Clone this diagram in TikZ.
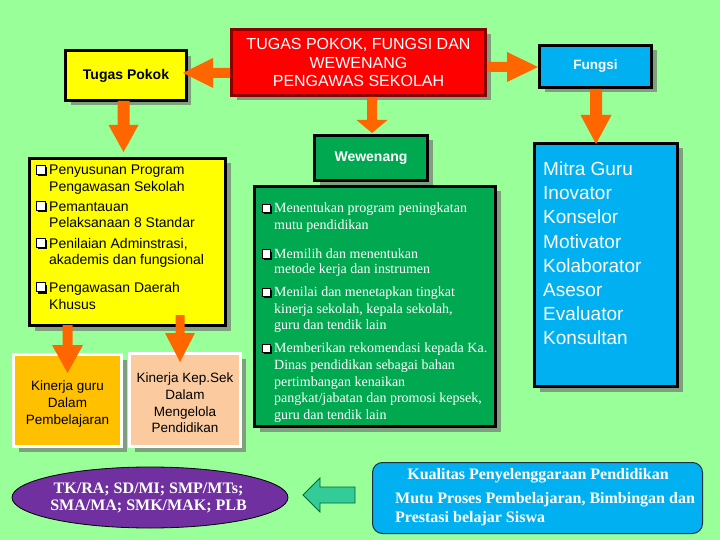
\documentclass[tikz,border=0pt]{standalone}
\usepackage{fontspec}
\setmainfont{Liberation Serif}
\setsansfont{Liberation Sans}
\usetikzlibrary{calc,shadows,shapes.geometric}
\definecolor{bgc}{HTML}{99FF99}
\definecolor{orng}{HTML}{FF6600}
\definecolor{yel}{HTML}{FFFF00}
\definecolor{redc}{HTML}{FF0000}
\definecolor{dred}{HTML}{8B0000}
\definecolor{fblue}{HTML}{00B0F0}
\definecolor{wgreen}{HTML}{00A850}
\definecolor{kgc}{HTML}{FFC000}
\definecolor{kkc}{HTML}{FBCB9F}
\definecolor{purp}{HTML}{7030A0}
\definecolor{agreen}{HTML}{33CC99}
\definecolor{agdark}{HTML}{006633}
\definecolor{bdark}{HTML}{1F3040}
\definecolor{shadowc}{HTML}{7F9F7F}
\newcommand\blockarr[6][]{%
  \coordinate (hb) at ($(#3)!#6!(#2)$);
  \path[#1] ($(#2)!#4!90:(#3)$) -- ($(hb)!#4!-90:(#2)$) -- ($(hb)!#5!-90:(#2)$) -- (#3)
    -- ($(hb)!#5!90:(#2)$) -- ($(hb)!#4!90:(#2)$) -- ($(#2)!#4!-90:(#3)$) -- cycle;}
\begin{document}
\begin{tikzpicture}[x=1pt,y=-1pt,
  shbox/.style={draw=black, line width=3pt, inner sep=0pt,
    drop shadow={shadow xshift=5pt, shadow yshift=-5pt, fill=shadowc, opacity=1}},
  oarrow/.style={fill=orng},
  garrow/.style={fill=agreen, draw=agdark, line width=0.8pt},
  txt/.style={inner sep=0pt, anchor=base west},
  ysans/.style={font=\sffamily\fontsize{14}{16}\selectfont},
  gser/.style={font=\rmfamily\fontsize{14}{16}\selectfont, text=white},
  bsans/.style={font=\sffamily\fontsize{19}{24}\selectfont, text=white},
  kbser/.style={text=white, font=\rmfamily\bfseries\fontsize{16}{18}\selectfont},
  qbul/.pic={\fill[black] (2,2) rectangle (11,-7);
    \filldraw[fill=white, draw=black, line width=0.8pt] (0,0) rectangle (9,-9);}
]
\useasboundingbox (0,0) rectangle (720,540);
\fill[bgc] (0,0) rectangle (720,540);

% main boxes
\node[shbox, fill=yel, minimum width=120.7pt, minimum height=49.7pt,
  font=\sffamily\bfseries\fontsize{14}{16}\selectfont] (tp) at (126,75.5) {Tugas Pokok};
\node[shbox, draw=dred, fill=redc, text=white, minimum width=254pt, minimum height=66pt,
  align=center, font=\sffamily\fontsize{16}{18.8}\selectfont] (main) at (358.5,62.5)
  {TUGAS POKOK, FUNGSI DAN\\WEWENANG\\PENGAWAS SEKOLAH};
\node[shbox, fill=fblue, text=white, minimum width=112pt, minimum height=42pt,
  font=\sffamily\bfseries\fontsize{13.5}{16}\selectfont] (fu) at (595.5,66.5) {Fungsi};
\node[shbox, fill=wgreen, text=white, minimum width=113pt, minimum height=45pt,
  font=\sffamily\bfseries\fontsize{14}{16}\selectfont] (we) at (371,158) {Wewenang};

% list containers
\node[shbox, fill=yel, minimum width=196pt, minimum height=167pt] (yl) at (127.5,242) {};
\node[shbox, fill=wgreen, minimum width=241pt, minimum height=240pt] (gl) at (375,306.5) {};
\node[shbox, fill=fblue, minimum width=143pt, minimum height=243pt] (bl) at (606,265) {};
\node[shbox, draw=white, fill=kgc, minimum width=108pt, minimum height=92pt] (kg) at (67.5,400.5) {};
\node[shbox, draw=white, fill=kkc, minimum width=111pt, minimum height=93pt] (kk) at (185,400) {};

% yellow list
\foreach \yy in {174.5,210.5,247,291.5}{\pic at (36,\yy) {qbul};}
\foreach \yy/\tt [count=\i] in {175/Penyusunan Program, 191.5/Pengawasan Sekolah,
  211.5/Pemantauan, 228/Pelaksanaan 8 Standar, 248/{Penilaian Adminstrasi,},
  264/akademis dan fungsional, 292.5/Pengawasan Daerah, 309/Khusus}
  {\node[txt, ysans] (yt\i) at (49,\yy) {\tt};}

% green list
\foreach \yy in {212.5,258,296.5,352.5}{\pic[scale=0.92] at (262,\yy) {qbul};}
\foreach \yy/\tt [count=\i] in {212.7/Menentukan program peningkatan, 229.3/mutu pendidikan,
  258.3/Memilih dan menentukan, 273.3/metode kerja dan instrumen,
  296.7/Menilai dan menetapkan tingkat, 313.3/{kinerja sekolah, kepala sekolah,},
  329.3/guru dan tendik lain, 352.7/Memberikan rekomendasi kepada Ka.,
  369.3/Dinas pendidikan sebagai bahan, 386/pertimbangan kenaikan,
  402.7/{pangkat/jabatan dan promosi kepsek,}, 419.3/guru dan tendik lain}
  {\node[txt, gser] (gt\i) at (274,\yy) {\tt};}

% blue list
\foreach \tt [count=\i] in {Mitra Guru, Inovator, Konselor, Motivator, Kolaborator,
  Asesor, Evaluator, Konsultan}
  {\node[txt, bsans] (bt\i) at (543,{152+24*\i}) {\tt};}

% kinerja texts
\node[inner sep=0pt, align=center, font=\sffamily\fontsize{13.5}{16.6}\selectfont] (kgt)
  at (67.5,404) {Kinerja guru\\Dalam\\Pembelajaran};
\node[inner sep=0pt, align=center, font=\sffamily\fontsize{13.5}{16.6}\selectfont] (kkt)
  at (185,403) {Kinerja Kep.Sek\\Dalam\\Mengelola\\Pendidikan};

% ellipse
\node[ellipse, draw=black, line width=0.8pt, fill=purp, minimum width=276pt,
  minimum height=61pt, inner sep=0pt] (lv) at (150,497.5) {};
\node[inner sep=0pt, align=center, text=white,
  font=\rmfamily\bfseries\fontsize{16}{17.7}\selectfont] (lvt) at (148.5,498)
  {TK/RA; SD/MI; SMP/MTs;\\SMA/MA; SMK/MAK; PLB};

% bottom box
\node[draw=bdark, line width=1pt, rounded corners=10pt, fill=fblue,
  minimum width=330pt, minimum height=71pt, inner sep=0pt] (kb) at (537.5,498) {};
\node[inner sep=0pt, anchor=base, kbser] (kb1) at (538,479.5)
  {Kualitas Penyelenggaraan Pendidikan};
\node[txt, kbser] (kb2) at (395,503.5) {Mutu Proses Pembelajaran, Bimbingan dan};
\node[txt, kbser] (kb3) at (395,522) {Prestasi belajar Siswa};

% arrow end points
\coordinate (a1s) at (main.west |- 0,73);
\coordinate (a1e) at (183,73);
\coordinate (a2s) at (main.east |- 0,67);
\coordinate (a2e) at (538,67);
\coordinate (a3s) at (372,97);
\coordinate (a3e) at (372,133);
\coordinate (a4s) at (596,89);
\coordinate (a4e) at (596,144);
\coordinate (a5s) at (123.5,101);
\coordinate (a5e) at (123.5,152);
\coordinate (a6s) at (67.5,325);
\coordinate (a6e) at (67.5,373);
\coordinate (a7s) at (180,315);
\coordinate (a7e) at (180,362);
\coordinate (a8s) at (355,495);
\coordinate (a8e) at (303,495);

\blockarr[oarrow]{a1s}{a1e}{5pt}{15pt}{30pt}
\blockarr[oarrow]{a2s}{a2e}{5pt}{15pt}{31pt}
\blockarr[oarrow]{a3s}{a3e}{5pt}{15.5pt}{13pt}
\blockarr[oarrow]{a4s}{a4e}{6pt}{15.5pt}{29pt}
\blockarr[oarrow]{a5s}{a5e}{6pt}{15pt}{27pt}
\blockarr[oarrow]{a6s}{a6e}{5pt}{15.5pt}{28pt}
\blockarr[oarrow]{a7s}{a7e}{4.5pt}{15pt}{29pt}
\blockarr[garrow]{a8s}{a8e}{8pt}{17pt}{17pt}
\end{tikzpicture}
\end{document}
